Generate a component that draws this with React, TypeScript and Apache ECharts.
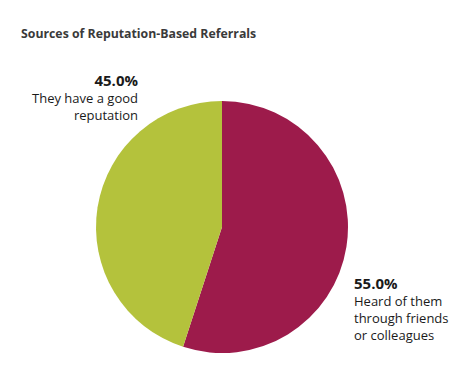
import React, { useEffect, useRef } from "react";
import * as echarts from "echarts";

const titleText = "Sources of Reputation-Based Referrals";
const categories = ["Heard of them through friends or colleagues", "They have a good reputation"];
const values = [55.0, 45.0];
const labelLines = [
  ["Heard of them", "through friends", "or colleagues"],
  ["They have a good", "reputation"],
];
const colors = ["#9d1b4b", "#b4c23c"];

export default function App() {
  const ref = useRef<HTMLDivElement>(null);
  useEffect(() => {
    const chart = echarts.init(ref.current!, null, { renderer: "svg" });
    chart.setOption({
      animation: false,
      backgroundColor: "#ffffff",
      title: {
        text: titleText,
        left: 16,
        top: 22,
        textStyle: {
          fontFamily: "'Open Sans', sans-serif",
          fontWeight: "bold",
          fontSize: 12.3,
          color: "#3a3a3a",
        },
      },
      series: [
        {
          type: "pie",
          center: [222, 227],
          radius: [0, 126],
          startAngle: 90,
          clockwise: true,
          data: categories.map((c, i) => ({
            name: c,
            value: values[i],
            itemStyle: { color: colors[i] },
          })),
          label: {
            show: true,
            position: "outside",
            overflow: "none",
            formatter: (p: any) =>
              `{pct|${p.value.toFixed(1)}%}\n` +
              labelLines[p.dataIndex].map((l) => `{txt|${l}}`).join("\n"),
            rich: {
              pct: {
                fontFamily: "Open Sans",
                fontWeight: "bold",
                fontSize: 15,
                color: "#1a1a1a",
                lineHeight: 19,
              },
              txt: {
                fontFamily: "Open Sans",
                fontSize: 13,
                color: "#1a1a1a",
                lineHeight: 17,
              },
            },
          },
          labelLine: { show: false },
          labelLayout: (p: any) =>
            p.dataIndex === 0
              ? { x: 354, y: 273, align: "left", verticalAlign: "top" }
              : { x: 138, y: 70, align: "right", verticalAlign: "top" },
        },
      ],
    });
    return () => chart.dispose();
  }, []);
  return (
    <div
      ref={ref}
      style={{ position: "fixed", left: 0, top: 0, width: 467, height: 380 }}
    />
  );
}
